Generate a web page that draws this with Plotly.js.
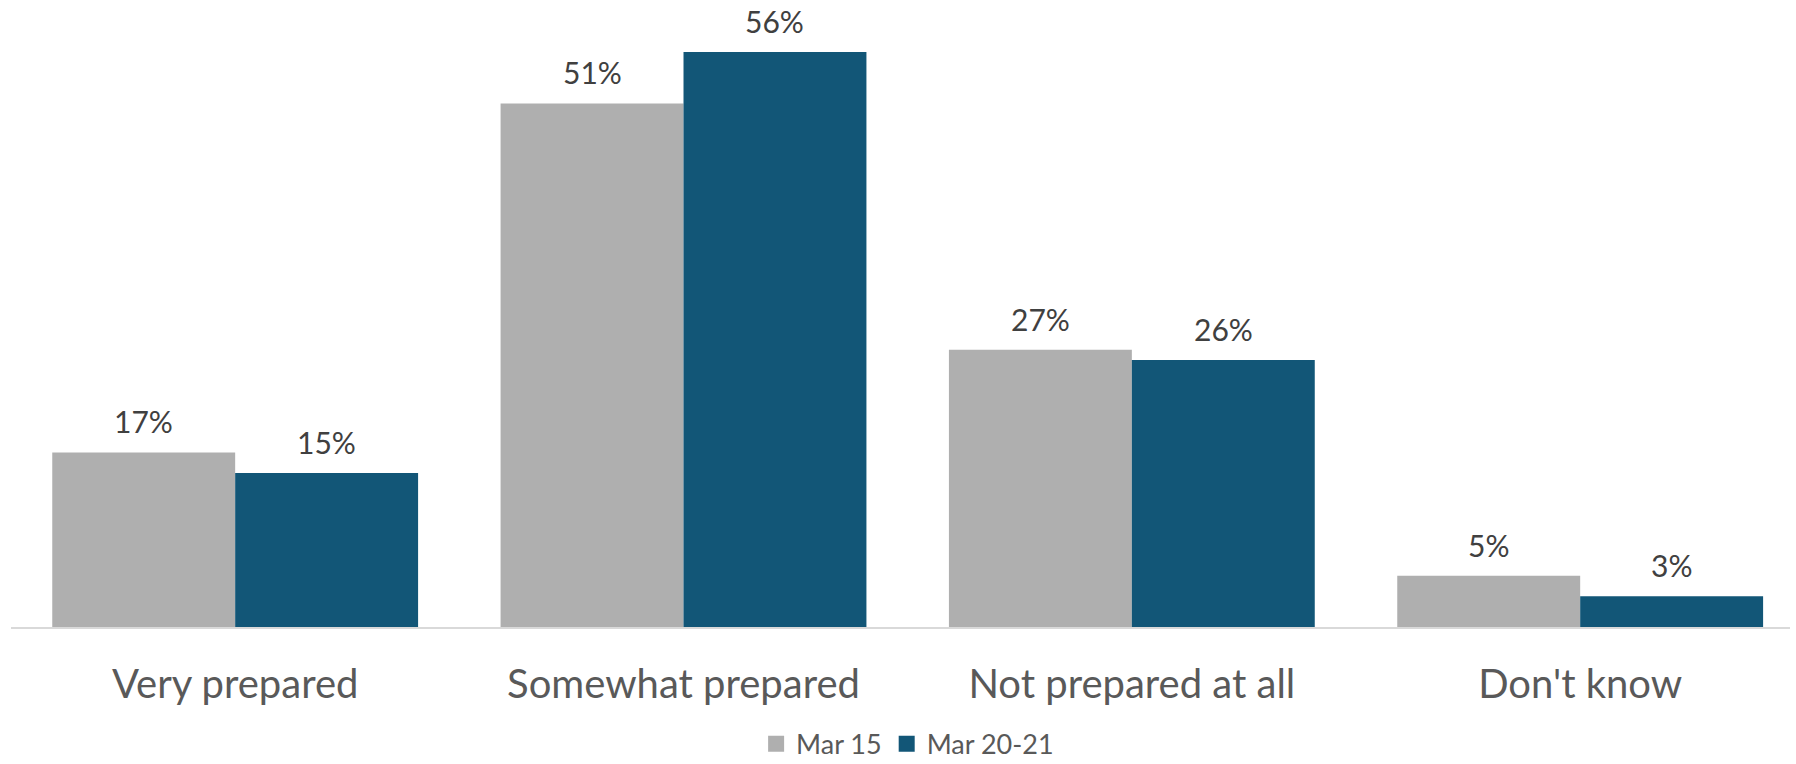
<!DOCTYPE html>
<html>
<head>
<meta charset="utf-8">
<script src="https://cdn.plot.ly/plotly-3.0.1.min.js"></script>
<style>html,body{margin:0;padding:0;background:#fff;}#chart{width:1796px;height:764px;}</style>
</head>
<body>
<div id="chart"></div>
<script>
const categories = ["Very prepared", "Somewhat prepared", "Not prepared at all", "Don't know"];
const seriesNames = ["Mar 15", "Mar 20-21"];
const mar15 = [17, 51, 27, 5];
const mar2021 = [15, 56, 26, 3];
const colors = ["#AFAFAF", "#125677"];

const FONT = "Lato, 'Open Sans', sans-serif";
const BARGAP = 0.184;
const seriesValues = [mar15, mar2021];

const traces = seriesValues.map((vals, s) => ({
  type: "bar",
  name: seriesNames[s],
  x: categories,
  y: vals,
  marker: {color: colors[s]},
  showlegend: false,
  hoverinfo: "x+y+name"
}));

// legend entries (square swatches)
seriesNames.forEach((n, s) => {
  traces.push({
    type: "scatter", mode: "markers", name: n,
    x: [null], y: [null],
    marker: {symbol: "square", size: 16, color: colors[s]},
    showlegend: true, hoverinfo: "skip"
  });
});

// data labels above bars
const off = (1 - BARGAP) / 4;
const annotations = [];
seriesValues.forEach((vals, s) => {
  vals.forEach((v, i) => {
    annotations.push({
      x: i + (s === 0 ? -off : off), xref: "x",
      y: v, yref: "y",
      yanchor: "bottom", xanchor: "center",
      yshift: 11,
      text: v + "%",
      showarrow: false,
      font: {family: FONT, size: 30, color: "#404040"}
    });
  });
});

const layout = {
  width: 1796, height: 764,
  margin: {l: 11, r: 6, t: 11, b: 137, autoexpand: false},
  paper_bgcolor: "#ffffff", plot_bgcolor: "#ffffff",
  barmode: "group", bargap: BARGAP, bargroupgap: 0,
  xaxis: {
    type: "category",
    range: [-0.5, 3.468],
    automargin: false,
    showline: true, linecolor: "#D9D9D9", linewidth: 2,
    ticks: "", showgrid: false, zeroline: false,
    tickfont: {family: FONT, size: 40, color: "#595959"},
    ticklabelstandoff: 21
  },
  yaxis: {
    range: [0, 60],
    visible: false, showgrid: false, zeroline: false
  },
  showlegend: true,
  legend: {
    orientation: "h", x: 0.504, xanchor: "center",
    yref: "container", y: 0.026, yanchor: "middle",
    font: {family: FONT, size: 27, color: "#595959"},
    itemwidth: 30, traceorder: "normal", bgcolor: "rgba(0,0,0,0)"
  },
  annotations: annotations,
  font: {family: FONT}
};

Plotly.newPlot("chart", traces, layout, {displayModeBar: false, staticPlot: true});
</script>
</body>
</html>
